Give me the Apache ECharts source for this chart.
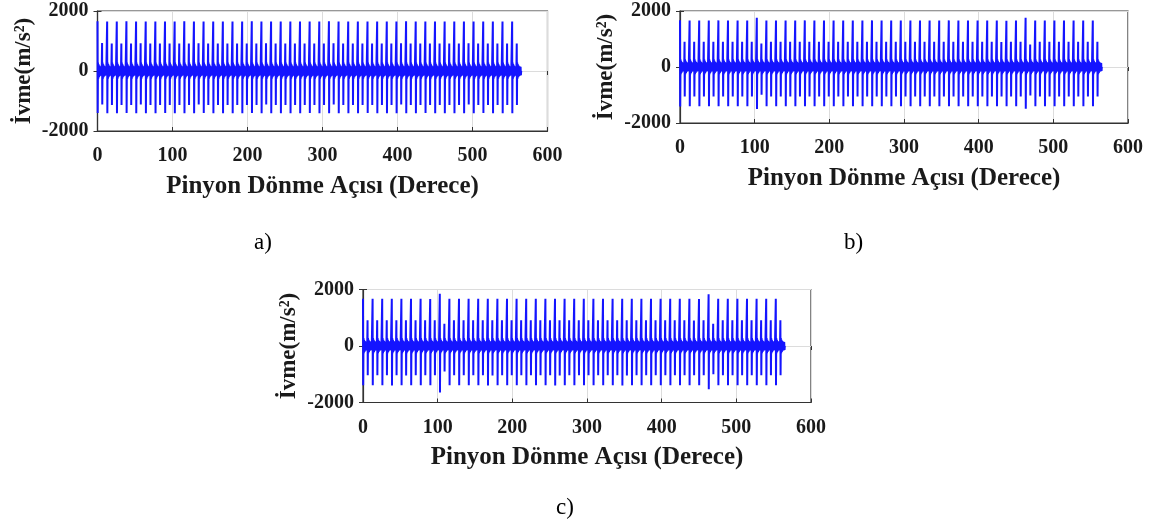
<!DOCTYPE html>
<html>
<head>
<meta charset="utf-8">
<script src="https://cdn.jsdelivr.net/npm/echarts@6/dist/echarts.min.js"></script>
<style>
html,body{margin:0;padding:0;background:#fff;}
#chart{width:1164px;height:527px;}
</style>
</head>
<body>
<div id="chart"></div>
<script>
// ---------- DATA ----------
const xTicks = [0, 100, 200, 300, 400, 500, 600];
const yTicks = [-2000, 0, 2000];
const panelCaptions = ['a)', 'b)', 'c)'];
const xTitle = 'Pinyon Dönme Açısı (Derece)';
const yTitle = 'İvme(m/s²)';

// tooth-mesh impact angles (degrees), 28-tooth pinion
const bigAngles = [0, 12.86, 25.71, 38.57, 51.43, 64.29, 77.14, 90, 102.86, 115.71, 128.57, 141.43, 154.29, 167.14, 180, 192.86, 205.71, 218.57, 231.43, 244.29, 257.14, 270, 282.86, 295.71, 308.57, 321.43, 334.29, 347.14, 360, 372.86, 385.71, 398.57, 411.43, 424.29, 437.14, 450, 462.86, 475.71, 488.57, 501.43, 514.29, 527.14, 540, 552.86];
const smallAngles = [6.1, 19.0, 31.8, 44.7, 57.5, 70.4, 83.2, 96.1, 109.0, 121.8, 134.7, 147.5, 160.4, 173.2, 186.1, 199.0, 211.8, 224.7, 237.5, 250.4, 263.2, 276.1, 289.0, 301.8, 314.7, 327.5, 340.4, 353.2, 366.1, 379.0, 391.8, 404.7, 417.5, 430.4, 443.2, 456.1, 469.0, 481.8, 494.7, 507.5, 520.4, 533.2, 546.1, 559.0];
// ringing after each impact (offset in degrees, value in m/s²)
const ringOffsets = [0.6, 1.05, 1.5, 1.95, 2.4, 2.85, 3.3, 3.75, 4.2, 4.65, 5.1, 5.55];
const ringValues = [280, -260, 220, -210, 180, -170, 160, -160, 150, -150, 140, -140];

// panel a
const aBigPeak = [1660, 1650, 1650, 1655, 1650, 1650, 1650, 1650, 1650, 1655, 1650, 1650, 1650, 1650, 1650, 1650, 1655, 1650, 1650, 1650, 1650, 1650, 1650, 1650, 1655, 1650, 1650, 1650, 1650, 1650, 1650, 1650, 1655, 1650, 1650, 1650, 1650, 1650, 1650, 1650, 1650, 1650, 1650, 1650];
const aBigTrough = [-1400, -1410, -1410, -1400, -1410, -1410, -1410, -1400, -1410, -1410, -1410, -1400, -1410, -1410, -1410, -1410, -1400, -1410, -1410, -1410, -1410, -1410, -1400, -1410, -1410, -1410, -1410, -1410, -1400, -1410, -1410, -1410, -1410, -1410, -1400, -1410, -1410, -1410, -1410, -1410, -1400, -1410, -1410, -1410];
const aSmallPeak = [930, 920, 920, 920, 925, 920, 920, 920, 920, 920, 925, 920, 920, 920, 920, 920, 920, 925, 920, 920, 920, 920, 920, 920, 925, 920, 920, 920, 920, 920, 920, 925, 920, 920, 920, 920, 920, 920, 925, 920, 920, 920, 920, 920];
const aSmallTrough = [-1120, -1130, -1130, -1130, -1120, -1130, -1130, -1130, -1130, -1130, -1120, -1130, -1130, -1130, -1130, -1130, -1130, -1120, -1130, -1130, -1130, -1130, -1130, -1130, -1120, -1130, -1130, -1130, -1130, -1130, -1130, -1120, -1130, -1130, -1130, -1130, -1130, -1130, -1120, -1130, -1130, -1130, -1130, -1130];

// panel b
const bBigPeak = [1670, 1660, 1660, 1660, 1665, 1660, 1660, 1660, 1760, 1660, 1660, 1660, 1660, 1665, 1660, 1660, 1660, 1660, 1660, 1660, 1665, 1660, 1660, 1660, 1660, 1660, 1660, 1660, 1665, 1660, 1660, 1660, 1660, 1660, 1650, 1660, 1760, 1660, 1660, 1660, 1660, 1660, 1660, 1660];
const bBigTrough = [-1410, -1400, -1400, -1400, -1400, -1405, -1400, -1400, -1500, -1400, -1400, -1400, -1400, -1400, -1405, -1400, -1400, -1400, -1400, -1400, -1400, -1400, -1405, -1400, -1400, -1400, -1400, -1400, -1400, -1400, -1405, -1400, -1400, -1400, -1400, -1400, -1490, -1400, -1400, -1400, -1400, -1400, -1400, -1400];
const bSmallPeak = [900, 900, 900, 905, 900, 900, 900, 900, 840, 900, 900, 900, 905, 900, 900, 900, 900, 900, 900, 905, 900, 900, 900, 900, 900, 900, 905, 900, 900, 900, 900, 900, 900, 890, 900, 900, 800, 900, 900, 900, 900, 900, 900, 900];
const bSmallTrough = [-1050, -1050, -1050, -1050, -1055, -1050, -1050, -1050, -990, -1050, -1050, -1050, -1050, -1055, -1050, -1050, -1050, -1050, -1050, -1050, -1055, -1050, -1050, -1050, -1050, -1050, -1050, -1055, -1050, -1050, -1050, -1050, -1050, -1050, -1050, -1050, -1020, -1050, -1050, -1050, -1050, -1050, -1050, -1050];

// panel c
const cBigPeak = [1675, 1670, 1670, 1670, 1675, 1670, 1670, 1660, 1850, 1670, 1670, 1670, 1675, 1670, 1670, 1670, 1670, 1670, 1675, 1670, 1670, 1670, 1670, 1670, 1675, 1670, 1670, 1670, 1670, 1670, 1675, 1670, 1670, 1670, 1670, 1660, 1830, 1670, 1670, 1670, 1670, 1670, 1670, 1670];
const cBigTrough = [-1390, -1390, -1390, -1395, -1390, -1390, -1390, -1390, -1650, -1390, -1390, -1390, -1390, -1395, -1390, -1390, -1390, -1390, -1390, -1390, -1395, -1390, -1390, -1390, -1390, -1390, -1390, -1395, -1390, -1390, -1390, -1390, -1390, -1390, -1390, -1390, -1530, -1390, -1390, -1390, -1390, -1390, -1390, -1390];
const cSmallPeak = [910, 910, 910, 910, 915, 910, 910, 910, 790, 910, 910, 910, 910, 915, 910, 910, 910, 910, 910, 910, 915, 910, 910, 910, 910, 910, 910, 915, 910, 910, 910, 910, 910, 910, 900, 910, 790, 910, 910, 910, 910, 910, 910, 910];
const cSmallTrough = [-1035, -1035, -1035, -1035, -1040, -1035, -1035, -1035, -900, -1035, -1035, -1035, -1035, -1040, -1035, -1035, -1035, -1035, -1035, -1035, -1040, -1035, -1035, -1035, -1035, -1035, -1035, -1040, -1035, -1035, -1035, -1035, -1035, -1035, -1035, -1035, -1000, -1035, -1035, -1035, -1035, -1035, -1035, -1035];

// ---------- BUILD ----------
function buildSignal(bigPeak, bigTrough, smallPeak, smallTrough) {
  const pts = [];
  for (let i = 0; i < bigAngles.length; i++) {
    const a = bigAngles[i];
    pts.push([a, bigPeak[i]], [a + 0.25, bigTrough[i]]);
    ringOffsets.forEach((o, k) => pts.push([a + o, ringValues[k]]));
    const s = smallAngles[i];
    pts.push([s, smallPeak[i]], [s + 0.25, smallTrough[i]]);
    ringOffsets.forEach((o, k) => pts.push([s + o, ringValues[k]]));
  }
  pts.push([pts[pts.length - 1][0] + 0.4, 0]);
  return pts;
}
const signals = [
  buildSignal(aBigPeak, aBigTrough, aSmallPeak, aSmallTrough),
  buildSignal(bBigPeak, bBigTrough, bSmallPeak, bSmallTrough),
  buildSignal(cBigPeak, cBigTrough, cSmallPeak, cSmallTrough)
];

const FONT = "'Liberation Serif', 'DejaVu Serif', serif";
const TXT = '#1a1a1a';
const grids = [
  {left: 97.5, top: 11, width: 450, height: 120},
  {left: 680, top: 11, width: 448, height: 112},
  {left: 363, top: 289.5, width: 448, height: 113}
];
const captionPos = [{left: 254, top: 231}, {left: 844, top: 231}, {left: 556, top: 496}];

const option = {
  animation: false,
  backgroundColor: '#fff',
  title: panelCaptions.map((t, i) => ({
    text: t, left: captionPos[i].left, top: captionPos[i].top, padding: 0,
    textStyle: {fontFamily: FONT, fontSize: 23, fontWeight: 'normal', color: '#000'}
  })),
  grid: grids.map(g => Object.assign({show: true, borderColor: '#333', borderWidth: 1.2, backgroundColor: 'transparent'}, g)),
  xAxis: [],
  yAxis: [],
  series: []
};

grids.forEach((g, i) => {
  option.xAxis.push({
    type: 'value', gridIndex: i, min: xTicks[0], max: xTicks[xTicks.length - 1], interval: 100,
    name: xTitle, nameLocation: 'middle', nameGap: 43,
    nameTextStyle: {fontFamily: FONT, fontSize: 25, fontWeight: 'bold', color: TXT},
    axisLine: {show: true, onZero: false, lineStyle: {color: '#333', width: 1.2}},
    axisTick: {show: true, inside: true, length: 4, lineStyle: {color: '#333'}},
    axisLabel: {show: true, margin: 15, fontFamily: FONT, fontSize: 20, fontWeight: 'bold', color: TXT,
      formatter: v => xTicks.includes(v) ? String(v) : ''},
    splitLine: {show: true, lineStyle: {color: '#dcdcdc', width: 1}}
  });
  option.xAxis.push({
    type: 'value', gridIndex: i, position: 'top', min: xTicks[0], max: xTicks[xTicks.length - 1], interval: 100,
    axisLine: {show: false}, axisLabel: {show: false}, splitLine: {show: false},
    axisTick: {show: true, inside: true, length: 4, lineStyle: {color: '#333'}}
  });
  option.yAxis.push({
    type: 'value', gridIndex: i, min: yTicks[0], max: yTicks[yTicks.length - 1], interval: 2000,
    name: yTitle, nameLocation: 'middle', nameGap: 62,
    nameTextStyle: {fontFamily: FONT, fontSize: 23, fontWeight: 'bold', color: TXT},
    axisLine: {show: true, lineStyle: {color: '#333', width: 1.2}},
    axisTick: {show: true, inside: true, length: 4, lineStyle: {color: '#333'}},
    axisLabel: {show: true, margin: 9, fontFamily: FONT, fontSize: 20, fontWeight: 'bold', color: TXT,
      formatter: v => yTicks.includes(v) ? String(v) : ''},
    splitLine: {show: true, lineStyle: {color: '#dcdcdc', width: 1}}
  });
  option.yAxis.push({
    type: 'value', gridIndex: i, position: 'right', min: yTicks[0], max: yTicks[yTicks.length - 1], interval: 2000,
    axisLine: {show: false}, axisLabel: {show: false}, splitLine: {show: false},
    axisTick: {show: true, inside: true, length: 4, lineStyle: {color: '#333'}}
  });
  option.series.push({
    type: 'line', xAxisIndex: 2 * i, yAxisIndex: 2 * i, data: signals[i],
    showSymbol: false, symbol: 'none', sampling: null, silent: true,
    lineStyle: {color: '#1414ff', width: 2}
  });
});

const chart = echarts.init(document.getElementById('chart'), null, {renderer: 'canvas'});
chart.setOption(option);
</script>
</body>
</html>
